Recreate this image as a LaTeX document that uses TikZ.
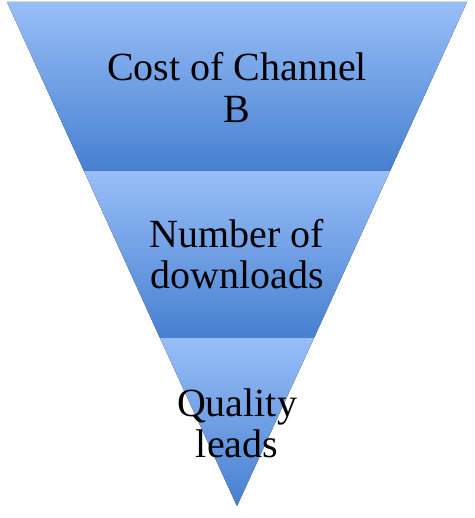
\documentclass[tikz,border=0pt]{standalone}
\usepackage{fontspec}
\setmainfont{Liberation Serif}
\usepackage{xcolor}
\usetikzlibrary{positioning,calc}
\definecolor{funneltop}{RGB}{152,190,248}
\definecolor{funnelbot}{RGB}{70,128,208}
\tikzset{
band/.style={
shading=axis,
top color=funneltop,
bottom color=funnelbot,
draw=none
},
bandtext/.style={
align=center,
inner sep=0pt,
font=\fontsize{40}{41.5}\selectfont
}
}

\begin{document}
\begin{tikzpicture}[x=1pt,y=-1pt]
\useasboundingbox (0,0) rectangle (474,518);
% corners of the funnel
\coordinate (tl) at (7,2);
\coordinate (tr) at (467,2);
\coordinate (ml) at (84,171);
\coordinate (mr) at (390,171);
\coordinate (ll) at (160,338);
\coordinate (lr) at (314,338);
\coordinate (tip) at (237,506);

\fill[band](tl)--(tr)--(mr)--(ml)--cycle;
\fill[band](ml)--(mr)--(lr)--(ll)--cycle;
\fill[band](ll)--(lr)--(tip)--cycle;

\node[bandtext](cost) at (237,87.5){Cost of Channel\\B};
\node[bandtext](downloads) at (237,254){Number of\\downloads};
\node[bandtext](leads) at (237,423.5){Quality\\leads};
\end{tikzpicture}
\end{document}
